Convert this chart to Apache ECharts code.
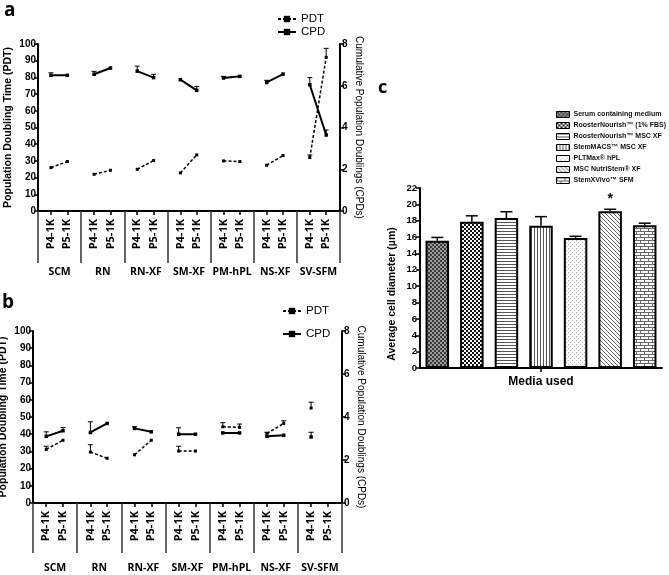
<!DOCTYPE html>
<html><head><meta charset="utf-8">
<script src="https://cdn.jsdelivr.net/npm/echarts@6/dist/echarts.min.js"></script>
<style>html,body{margin:0;padding:0;background:#fff}#c{width:669px;height:575px}</style>
</head><body><div id="c"></div>
<script>
// ---------- data ----------
const groups = ['SCM','RN','RN-XF','SM-XF','PM-hPL','NS-XF','SV-SFM'];
const passages = ['P4-1K','P5-1K'];
// panel a  [P4, P5] per group
const aPDT    = [[26,29.6],[22,24.4],[25,30.2],[22.8,33.6],[30,29.6],[27.4,33.2],[32,92]];
const aPDTtop = [[null,null],[null,null],[null,null],[null,null],[null,null],[null,null],[33.5,97.4]];
const aCPD    = [[6.5,6.5],[6.55,6.85],[6.7,6.39],[6.29,5.78],[6.37,6.45],[6.16,6.56],[6.05,3.64]];
const aCPDtop = [[6.62,null],[6.69,null],[6.94,6.55],[null,5.97],[6.45,null],[6.26,null],[6.39,3.88]];
// panel b
const bPDT    = [[31.2,36.5],[29.6,26],[28,36.5],[30.2,30.2],[44.3,44],[40.4,46.3],[55.2,null]];
const bPDTtop = [[33,null],[33.9,null],[null,null],[33,null],[46.7,45.9],[null,47.8],[58.6,null]];
const bCPD    = [[3.1,3.36],[3.28,3.7],[3.47,3.31],[3.2,3.2],[3.26,3.26],[3.1,3.15],[3.07,null]];
const bCPDtop = [[3.31,3.51],[3.78,null],[3.55,null],[3.5,null],[null,null],[3.29,null],[3.29,null]];
// panel c
const media = ['Serum containing medium','RoosterNourish\u2122 (1% FBS)','RoosterNourish\u2122 MSC XF','StemMACS\u2122 MSC XF','PLTMax\u00ae hPL','MSC NutriStem\u00ae XF','StemXVivo\u2122 SFM'];
const diam    = [15.55,17.86,18.34,17.4,15.9,19.15,17.45];
const diamTop = [15.96,18.6,19.1,18.5,16.1,19.4,17.7];
const sig     = ['','','','','','*',''];
const leftTicksA = [0,100,10], rightTicks = [0,8,2], cTicks = [0,22,2];

// ---------- layout ----------
const OFF = [0.3, 0.68];
const SANS = 'Liberation Sans';
const pPos = [];
groups.forEach((g,i)=>OFF.forEach(o=>pPos.push(i+o)));

function lineData(arr){
  const d=[];
  arr.forEach((pair,i)=>{
    pair.forEach((v,j)=>d.push([i+OFF[j], v==null?'-':v]));
    d.push([i+0.95,'-']);
  });
  return d;
}
function errData(vals,tops){
  const d=[];
  vals.forEach((pair,i)=>pair.forEach((v,j)=>{ if(v!=null && tops[i][j]!=null) d.push([i+OFF[j], v, tops[i][j]]); }));
  return d;
}
function errRender(params, api){
  const p0 = api.coord([api.value(0), api.value(1)]);
  const p1 = api.coord([api.value(0), api.value(2)]);
  return {type:'group', children:[
    {type:'line', shape:{x1:p0[0],y1:p0[1],x2:p1[0],y2:p1[1]}, style:{stroke:'#000',lineWidth:1}},
    {type:'line', shape:{x1:p1[0]-2.5,y1:p1[1],x2:p1[0]+2.5,y2:p1[1]}, style:{stroke:'#000',lineWidth:1}}
  ]};
}
function barErrRender(params, api){
  const p0 = api.coord([api.value(0), api.value(1)]);
  const p1 = api.coord([api.value(0), api.value(2)]);
  const ch = [
    {type:'line', shape:{x1:p0[0],y1:p0[1],x2:p1[0],y2:p1[1]}, style:{stroke:'#000',lineWidth:1.5}},
    {type:'line', shape:{x1:p1[0]-6,y1:p1[1],x2:p1[0]+6,y2:p1[1]}, style:{stroke:'#000',lineWidth:1.5}}
  ];
  const s = sig[params.dataIndex];
  if(s) ch.push({type:'text', x:p1[0], y:p1[1]-3, style:{text:s, fill:'#000', font:'bold 14px '+SANS, align:'center', verticalAlign:'bottom'}});
  return {type:'group', children:ch};
}
function pat(w,h,bg,draw){
  const c=document.createElement('canvas'); c.width=w; c.height=h;
  const g=c.getContext('2d'); g.fillStyle=bg; g.fillRect(0,0,w,h); draw(g);
  return {image:c, repeat:'repeat'};
}
const patterns = [
  pat(4,4,'#9a9a9a',g=>{g.fillStyle='#3c3c3c';g.fillRect(0,0,2,2);g.fillRect(2,2,2,2);}),
  pat(4,4,'#fff',g=>{g.fillStyle='#111';g.fillRect(0,0,2,2);g.fillRect(2,2,2,2);}),
  pat(3,3,'#fff',g=>{g.fillStyle='#555';g.fillRect(0,0,3,1);}),
  pat(3,3,'#fff',g=>{g.fillStyle='#555';g.fillRect(0,0,1,3);}),
  pat(4,4,'#fff',g=>{g.fillStyle='#aaa';g.fillRect(0,0,1,1);g.fillRect(2,2,1,1);}),
  pat(4,4,'#fff',g=>{g.fillStyle='#666';for(let k=0;k<4;k++)g.fillRect(k,k,1,1);}),
  pat(8,6,'#fff',g=>{g.fillStyle='#666';g.fillRect(0,0,8,1);g.fillRect(0,3,8,1);g.fillRect(0,0,1,3);g.fillRect(4,3,1,3);})
];

const black = '#000';
const tickLab = {color:black, fontFamily:SANS, fontWeight:'bold', fontSize:10};
function pAxis(grid){
  return {type:'value', gridIndex:grid, min:0, max:7, splitLine:{show:false},
    axisLine:{show:true, onZero:false, lineStyle:{color:black,width:2}},
    axisTick:{show:true, customValues:pPos, length:4, lineStyle:{color:black,width:1.5}},
    axisLabel:{customValues:pPos, rotate:90, margin:8, color:black, fontFamily:'Open Sans', fontWeight:'bold', fontSize:11,
      formatter:v=>passages[(v-Math.floor(v))<0.5?0:1]}};
}
function gAxis(grid, len, margin){
  return {type:'category', gridIndex:grid, data:groups, position:'bottom',
    axisLine:{show:false}, splitLine:{show:false},
    axisTick:{show:true, interval:0, length:len, lineStyle:{color:'#333',width:1.5}},
    axisLabel:{interval:0, margin:margin, color:black, fontFamily:'Open Sans', fontWeight:'bold', fontSize:10.5}};
}
function leftAxis(grid){
  return {type:'value', gridIndex:grid, min:leftTicksA[0], max:leftTicksA[1], interval:leftTicksA[2], splitLine:{show:false},
    axisLine:{show:true, lineStyle:{color:black,width:2}},
    axisTick:{show:true, length:4, lineStyle:{color:black,width:1.5}},
    axisLabel:Object.assign({margin:2}, tickLab),
    name:'Population Doubling Time (PDT)', nameLocation:'middle', nameGap:24,
    nameTextStyle:{color:black, fontFamily:SANS, fontWeight:'bold', fontSize:10.5}};
}
function rightAxis(grid){
  return {type:'value', gridIndex:grid, position:'right', min:rightTicks[0], max:rightTicks[1], interval:rightTicks[2], splitLine:{show:false},
    axisLine:{show:true, lineStyle:{color:black,width:2}},
    axisTick:{show:true, length:4, lineStyle:{color:black,width:1.5}},
    axisLabel:Object.assign({margin:2}, tickLab),
    name:'Cumulative Population Doublings (CPDs)', nameLocation:'middle', nameRotate:-90, nameGap:14,
    nameTextStyle:{color:black, fontFamily:SANS, fontSize:10}};
}
function pdtSeries(x,y,arr){
  return {type:'line', name:'PDT', xAxisIndex:x, yAxisIndex:y, data:lineData(arr), connectNulls:false,
    symbol:'rect', symbolSize:3, showSymbol:true, showAllSymbol:true, itemStyle:{color:black},
    lineStyle:{color:black, width:1.5, type:[3,2]}, z:3};
}
function cpdSeries(x,y,arr){
  return {type:'line', name:'CPD', xAxisIndex:x, yAxisIndex:y, data:lineData(arr), connectNulls:false,
    symbol:'rect', symbolSize:3.5, showSymbol:true, showAllSymbol:true, itemStyle:{color:black},
    lineStyle:{color:black, width:2, type:'solid'}, z:3};
}
function errSeries(x,y,vals,tops){
  return {type:'custom', name:'err', xAxisIndex:x, yAxisIndex:y, renderItem:errRender, data:errData(vals,tops), z:2};
}
const legendText = {color:black, fontFamily:SANS, fontSize:11.5};

const barSeries = media.map((m,k)=>({
  type:'bar', name:m, xAxisIndex:4, yAxisIndex:4, barWidth:'68%', barGap:'-100%',
  data:diam.map((v,i)=>i===k?v:'-'),
  itemStyle:{color:patterns[k], borderColor:black, borderWidth:2}
}));

const option = {
  animation:false,
  backgroundColor:'#fff',
  graphic:[
    {type:'text', left:4, top:1, style:{text:'a', font:'bold 19px "Open Sans"', fill:black}},
    {type:'text', left:2, top:293, style:{text:'b', font:'bold 19px "Open Sans"', fill:black}},
    {type:'text', left:378, top:79, style:{text:'c', font:'bold 18px "Open Sans"', fill:black}}
  ],
  legend:[
    {data:['PDT','CPD'], orient:'vertical', left:272, top:8, itemWidth:18, itemHeight:8, itemGap:1, textStyle:legendText, selectedMode:false},
    {data:['PDT','CPD'], orient:'vertical', left:277, top:300, itemWidth:18, itemHeight:8, itemGap:11, textStyle:legendText, selectedMode:false},
    {data:media, orient:'vertical', left:551, top:106, itemWidth:13, itemHeight:6, itemGap:4, icon:'rect',
      itemStyle:{borderWidth:1, borderColor:black}, selectedMode:false,
      textStyle:{color:'#111', fontFamily:SANS, fontWeight:'bold', fontSize:7, padding:[0,0,0,-1]}}
  ],
  grid:[
    {left:38, top:44, width:302, height:167, outerBoundsMode:'none'},
    {left:33, top:331, width:309, height:172, outerBoundsMode:'none'},
    {left:420, top:188, width:242, height:180, outerBoundsMode:'none'}
  ],
  xAxis:[
    pAxis(0), gAxis(0,52,56), pAxis(1), gAxis(1,50,60),
    {type:'category', gridIndex:2, data:media, axisLine:{show:true, lineStyle:{color:black,width:2}}, axisTick:{show:false}, axisLabel:{show:false}, splitLine:{show:false}},
    {type:'category', gridIndex:2, data:['Media used'], position:'bottom', axisLine:{show:false},
      axisTick:{show:true, alignWithLabel:true, length:4, lineStyle:{color:black,width:1.5}},
      axisLabel:{margin:8, color:black, fontFamily:SANS, fontWeight:'bold', fontSize:12}}
  ],
  yAxis:[
    leftAxis(0), rightAxis(0), leftAxis(1), rightAxis(1),
    {type:'value', gridIndex:2, min:cTicks[0], max:cTicks[1], interval:cTicks[2], splitLine:{show:false},
      axisLine:{show:true, lineStyle:{color:black,width:2}},
      axisTick:{show:true, length:4, lineStyle:{color:black,width:1.5}},
      axisLabel:{margin:3, color:black, fontFamily:SANS, fontWeight:'bold', fontSize:9.5},
      name:'Average cell diameter (\u00b5m)', nameLocation:'middle', nameGap:22,
      nameTextStyle:{color:black, fontFamily:SANS, fontWeight:'bold', fontSize:10.5, padding:[0,32,0,0]}}
  ],
  series:[
    pdtSeries(0,0,aPDT), cpdSeries(0,1,aCPD), errSeries(0,0,aPDT,aPDTtop), errSeries(0,1,aCPD,aCPDtop),
    pdtSeries(2,2,bPDT), cpdSeries(2,3,bCPD), errSeries(2,2,bPDT,bPDTtop), errSeries(2,3,bCPD,bCPDtop),
    ...barSeries,
    {type:'custom', name:'barErr', xAxisIndex:4, yAxisIndex:4, renderItem:barErrRender,
      data:diam.map((v,i)=>[i,v,diamTop[i]]), z:5}
  ]
};
const chart = echarts.init(document.getElementById('c'), null, {renderer:'canvas'});
chart.setOption(option);
</script></body></html>
